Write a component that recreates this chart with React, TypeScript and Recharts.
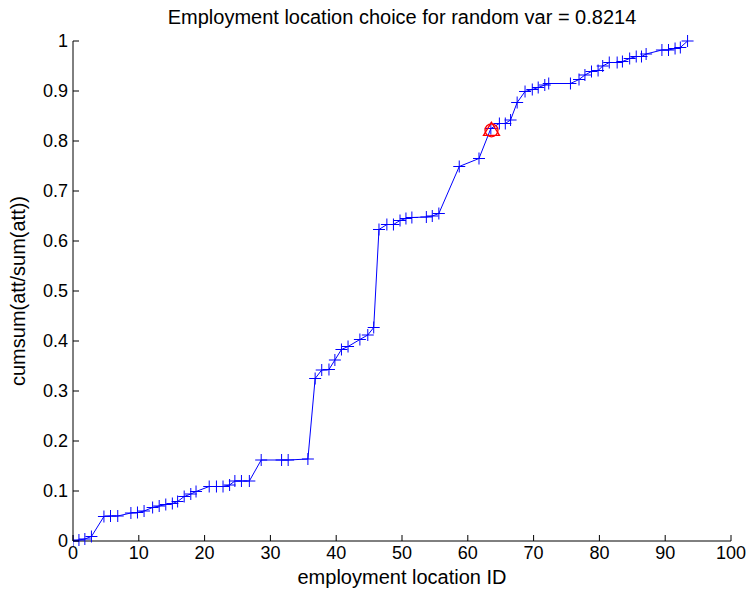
import { ComposedChart, Line, Scatter, XAxis, YAxis } from 'recharts';

// location IDs (x) and cumulative attractiveness share (y)
const locationIds = [
    0, 0.9, 1.8, 2.8, 4.7, 5.7, 6.8, 8.8, 9.8, 10.8, 12.1, 13.1, 14.1, 15.1, 15.9, 16.9, 17.9, 18.7,
    20.7, 21.8, 22.8, 23.8, 24.6, 25.6, 26.8, 28.6, 31.7, 32.7, 35.7, 36.8, 37.8, 38.9, 39.8, 40.8,
    41.8, 43.6, 44.8, 45.7, 46.5, 47.7, 48.7, 49.7, 50.6, 51.5, 53.7, 54.6, 55.6, 58.7, 61.7, 63.5,
    64.8, 65.7, 66.5, 67.5, 68.7, 69.8, 70.7, 71.7, 72.3, 75.6, 76.9, 77.8, 78.8, 79.8, 80.5, 81.5,
    82.7, 83.5, 84.6, 85.6, 86.4, 87.1, 89.5, 90.5, 91.5, 92.3, 93.4,
];
const cumShare = [
    0, 0.002, 0.004, 0.009, 0.049, 0.05, 0.05, 0.056, 0.057, 0.06, 0.067, 0.07, 0.073, 0.075, 0.079, 0.089, 0.094, 0.099,
    0.109, 0.109, 0.109, 0.112, 0.12, 0.12, 0.12, 0.162, 0.162, 0.162, 0.164, 0.325, 0.342, 0.343, 0.362, 0.383,
    0.389, 0.403, 0.412, 0.427, 0.623, 0.633, 0.633, 0.641, 0.645, 0.647, 0.648, 0.65, 0.655, 0.749, 0.765, 0.825,
    0.835, 0.835, 0.842, 0.877, 0.899, 0.903, 0.907, 0.912, 0.915, 0.915, 0.923, 0.932, 0.939, 0.941, 0.95, 0.957,
    0.957, 0.959, 0.965, 0.969, 0.969, 0.974, 0.982, 0.982, 0.985, 0.987, 1.0,
];

// the chosen location for the random draw
const chosenId = [63.6];
const randomVar = [0.8214];

const xTicks = [0, 10, 20, 30, 40, 50, 60, 70, 80, 90, 100];
const yTicks = [0, 0.1, 0.2, 0.3, 0.4, 0.5, 0.6, 0.7, 0.8, 0.9, 1];

const curve = locationIds.map((x, i) => ({ x, y: cumShare[i] }));
const choice = chosenId.map((x, i) => ({ x, y: randomVar[i] }));

const FONT = '"Liberation Sans", Arial, sans-serif';

function PlusDot(props: any) {
    const { cx, cy } = props;
    if (cx == null || cy == null) return null;
    return (
        <path
            d={`M${cx - 6},${cy}H${cx + 6}M${cx},${cy - 6}V${cy + 6}`}
            stroke="#0000ff"
            strokeWidth={1}
            fill="none"
        />
    );
}

function ChoiceMark(props: any) {
    const { cx, cy } = props;
    return (
        <g stroke="#ff0000" strokeWidth={1.3} fill="none">
            <circle cx={cx} cy={cy} r={6.5} />
            <path d={`M${cx},${cy - 8}L${cx + 8},${cy + 5}L${cx - 8},${cy + 5}Z`} />
        </g>
    );
}

function XTick(props: any) {
    const { x, y, payload } = props;
    return (
        <g>
            <line x1={x} y1={y} x2={x} y2={y - 6} stroke="#000" />
            <text x={x} y={y + 18} textAnchor="middle" fontSize={18} fontFamily={FONT} fill="#000">
                {payload.value}
            </text>
        </g>
    );
}

function YTick(props: any) {
    const { x, y, payload } = props;
    return (
        <g>
            <line x1={x} y1={y} x2={x + 6} y2={y} stroke="#000" />
            <text x={x - 5} y={y + 6} textAnchor="end" fontSize={18} fontFamily={FONT} fill="#000">
                {payload.value}
            </text>
        </g>
    );
}

export default function App() {
    return (
        <div style={{ position: 'relative', width: 747, height: 592, background: '#fff', fontFamily: FONT }}>
            <style>{'body{margin:0}'}</style>
            <ComposedChart width={747} height={592} data={curve} margin={{ top: 41, right: 16, bottom: 21, left: 33 }}>
                <XAxis
                    dataKey="x"
                    type="number"
                    domain={[0, 100]}
                    ticks={xTicks}
                    interval={0}
                    tickSize={0}
                    tickMargin={0}
                    height={30}
                    tick={<XTick />}
                    axisLine={{ stroke: '#000' }}
                    allowDataOverflow
                />
                <YAxis
                    type="number"
                    domain={[0, 1]}
                    ticks={yTicks}
                    interval={0}
                    tickSize={0}
                    tickMargin={0}
                    width={40}
                    tick={<YTick />}
                    axisLine={{ stroke: '#000' }}
                />
                <Line
                    dataKey="y"
                    type="linear"
                    stroke="#0000ff"
                    strokeWidth={1}
                    dot={<PlusDot />}
                    activeDot={false}
                    isAnimationActive={false}
                />
                <Scatter data={choice} dataKey="y" shape={<ChoiceMark />} isAnimationActive={false} />
            </ComposedChart>
            <div
                style={{
                    position: 'absolute',
                    top: 6,
                    left: 73,
                    width: 658,
                    textAlign: 'center',
                    fontSize: 20,
                    lineHeight: '22px',
                    color: '#000',
                }}
            >
                Employment location choice for random var = 0.8214
            </div>
            <div
                style={{
                    position: 'absolute',
                    top: 566,
                    left: 73,
                    width: 658,
                    textAlign: 'center',
                    fontSize: 20,
                    lineHeight: '22px',
                    color: '#000',
                }}
            >
                employment location ID
            </div>
            <div
                style={{
                    position: 'absolute',
                    left: 18,
                    top: 291,
                    transform: 'translate(-50%, -50%) rotate(-90deg)',
                    whiteSpace: 'nowrap',
                    fontSize: 20,
                    lineHeight: '22px',
                    color: '#000',
                }}
            >
                cumsum(att/sum(att))
            </div>
        </div>
    );
}
